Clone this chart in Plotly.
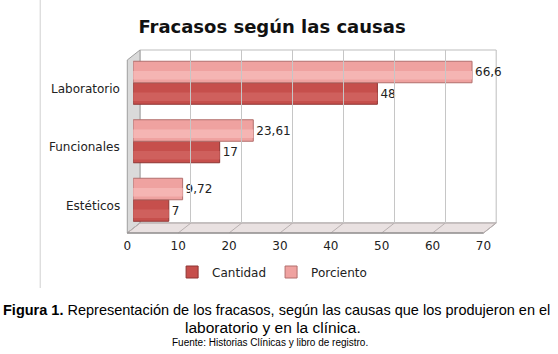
import plotly.graph_objects as go

# ---- data ----
categories = ["Estéticos", "Funcionales", "Laboratorio"]
cantidad = [7, 17, 48]
porciento = [9.72, 23.61, 66.6]
x_ticks = [0, 10, 20, 30, 40, 50, 60, 70]

W, H = 558, 354
def px(x):
    return x / W
def py(y):
    return 1 - y / H

C_DARK = "#C64F4C"
C_DARK_LINE = "#8E3533"
C_DARK_HI = "#CF605D"
C_LIGHT = "#EFA2A0"
C_LIGHT_LINE = "#B26F6D"
C_LIGHT_HI = "#F5B5B3"
FONT = "DejaVu Sans"

BW = 0.3675  # bar thickness in category units

fig = go.Figure()

# main bars
fig.add_trace(go.Bar(
    y=categories, x=cantidad, orientation="h", name="Cantidad",
    marker=dict(color=C_DARK, line=dict(color=C_DARK_LINE, width=1)),
    width=BW, offset=-BW, texttemplate="%{x}", textposition="outside",
    textfont=dict(family=FONT, size=12, color="#222"), cliponaxis=False,
))
fig.add_trace(go.Bar(
    y=categories, x=porciento, orientation="h", name="Porciento",
    marker=dict(color=C_LIGHT, line=dict(color=C_LIGHT_LINE, width=1)),
    width=BW, offset=0, texttemplate="%{x}", textposition="outside",
    textfont=dict(family=FONT, size=12, color="#222"), cliponaxis=False,
))
# soft cylinder highlight bands
fig.add_trace(go.Bar(
    y=categories, x=cantidad, orientation="h", showlegend=False, hoverinfo="skip",
    marker=dict(color=C_DARK_HI, line=dict(width=0)),
    width=BW * 0.4, offset=-BW * 0.85,
))
fig.add_trace(go.Bar(
    y=categories, x=porciento, orientation="h", showlegend=False, hoverinfo="skip",
    marker=dict(color=C_LIGHT_HI, line=dict(width=0)),
    width=BW * 0.4, offset=BW * 0.15,
))

# back-wall gridlines axis (shifted for depth)
fig.add_trace(go.Scatter(x=[None], y=[None], xaxis="x2", yaxis="y2", showlegend=False))

shapes = []
# back wall
shapes.append(dict(type="rect", xref="paper", yref="paper",
                   x0=px(139), x1=px(503), y0=py(223), y1=py(50),
                   line=dict(color="#BDBDBD", width=1), fillcolor="white", layer="below"))
# left wall
shapes.append(dict(type="path", xref="paper", yref="paper",
                   path=f"M {px(126)},{py(233)} L {px(126)},{py(60)} L {px(139)},{py(50)} L {px(139)},{py(223)} Z",
                   line=dict(color="#9E9E9E", width=1), fillcolor="#DADADA", layer="below"))
# floor
shapes.append(dict(type="path", xref="paper", yref="paper",
                   path=f"M {px(126)},{py(233)} L {px(490)},{py(233)} L {px(503)},{py(223)} L {px(139)},{py(223)} Z",
                   line=dict(color="#A8A0A0", width=1), fillcolor="#E9E1E1", layer="below"))
# floor depth lines at ticks
for t in x_ticks:
    xf = 126 + t * (490 - 126) / 70
    xb = 139 + t * (503 - 139) / 70
    shapes.append(dict(type="line", xref="paper", yref="paper",
                       x0=px(xf), y0=py(233), x1=px(xb), y1=py(223),
                       line=dict(color="#B8B0B0", width=1), layer="below"))
# front floor edge
shapes.append(dict(type="line", xref="paper", yref="paper",
                   x0=px(126), y0=py(233), x1=px(490), y1=py(233),
                   line=dict(color="#808080", width=1), layer="below"))
# outer frame line on the left
shapes.append(dict(type="line", xref="paper", yref="paper",
                   x0=px(37), y0=1, x1=px(37), y1=py(288),
                   line=dict(color="#D0D0D0", width=1)))

annotations = []
for c in categories:
    annotations.append(dict(text=c, x=px(121), xref="paper", xanchor="right",
                            y=c, yref="y", yshift=-6, showarrow=False,
                            font=dict(family=FONT, size=12, color="#222")))
annotations.append(dict(
    text="<b>Figura 1.</b> Representación de los fracasos, según las causas que los produjeron en el",
    x=px(278), y=py(310), xref="paper", yref="paper", yanchor="middle", showarrow=False,
    font=dict(family="Liberation Sans", size=14.5, color="#000")))
annotations.append(dict(
    text="laboratorio y en la clínica.",
    x=px(275), y=py(327), xref="paper", yref="paper", yanchor="middle", showarrow=False,
    font=dict(family="Liberation Sans", size=15.5, color="#000")))
annotations.append(dict(
    text="Fuente: Historias Clínicas y libro de registro.",
    x=px(272), y=py(342), xref="paper", yref="paper", yanchor="middle", showarrow=False,
    font=dict(family="Liberation Sans", size=10, color="#000")))

fig.update_layout(
    width=W, height=H,
    margin=dict(l=0, r=0, t=0, b=0),
    paper_bgcolor="white", plot_bgcolor="rgba(0,0,0,0)",
    barmode="overlay",
    separators=",.",
    title=dict(text="<b>Fracasos según las causas</b>", x=px(272), xanchor="center",
               y=py(27), yanchor="middle",
               font=dict(family=FONT, size=18, color="#111")),
    xaxis=dict(domain=[px(132), px(496)], range=[0, 70], showgrid=False,
               showticklabels=False, zeroline=False, anchor="y", fixedrange=True),
    yaxis=dict(domain=[py(229), py(53.5)], range=[-0.5, 2.5], type="category",
               categoryorder="array", categoryarray=categories,
               showticklabels=False, showgrid=False, zeroline=False),
    xaxis2=dict(domain=[px(139), px(503)], range=[0, 70], dtick=10, showgrid=True,
                gridcolor="#C6C6C6", gridwidth=1, showticklabels=False, zeroline=False,
                anchor="y2"),
    yaxis2=dict(domain=[py(223), py(50)], range=[0, 1], visible=False, anchor="x2"),
    xaxis3=dict(domain=[px(126), px(490)], range=[0, 70], tickvals=x_ticks,
                showgrid=False, zeroline=False, anchor="free", position=py(237),
                tickfont=dict(family=FONT, size=12, color="#222"), ticks=""),
    legend=dict(orientation="h", x=px(274), xanchor="center", y=py(272), yanchor="middle",
                font=dict(family=FONT, size=12, color="#222"), traceorder="normal",
                itemwidth=30, bgcolor="rgba(0,0,0,0)"),
    shapes=shapes, annotations=annotations,
    showlegend=True,
)
# dummy trace to make xaxis3 render
fig.add_trace(go.Scatter(x=[None], y=[None], xaxis="x3", yaxis="y", showlegend=False))

fig.write_html("out.html")
